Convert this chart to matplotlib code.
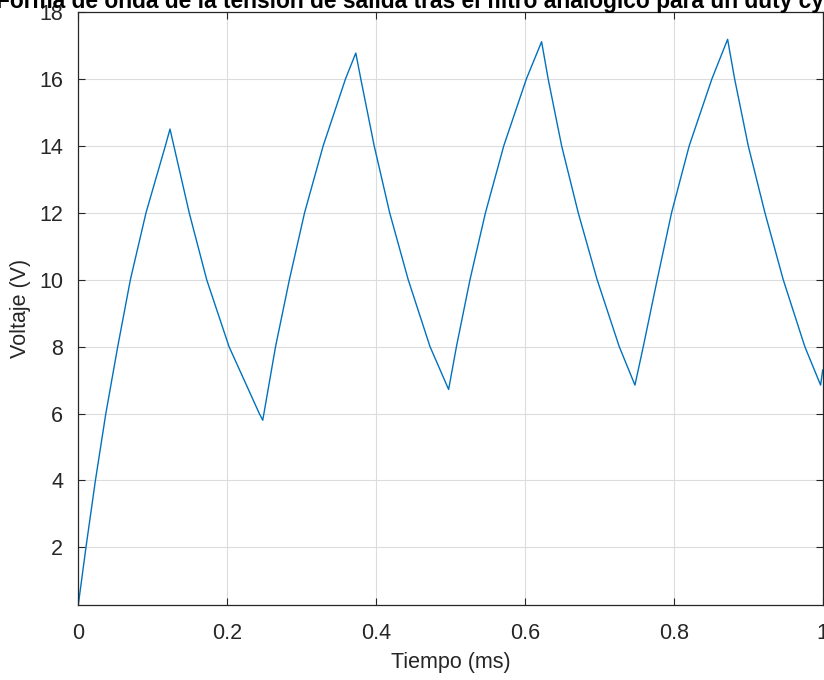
#! /usr/bin/env python3

import matplotlib.pyplot as plt

"""
Tensión a la salida del filtro RC (valores leídos en el osciloscopio).
"""

# tiempo en milisegundos
tiempo = [
    0.0, 0.0103, 0.023, 0.037, 0.053, 0.070, 0.091, 0.117, 0.1232,
    0.149, 0.1725, 0.2025, 0.2432, 0.2478,
    0.2650, 0.2836, 0.3040, 0.3290, 0.3590, 0.3728,
    0.3795, 0.3975, 0.4183, 0.4432, 0.4725, 0.4975,
    0.5080, 0.5262, 0.5470, 0.5716, 0.6020, 0.6224,
    0.6312, 0.6493, 0.6716, 0.6970, 0.7267, 0.7478,
    0.7590, 0.7777, 0.7970, 0.8207, 0.8512, 0.8723,
    0.8817, 0.9000, 0.9224, 0.9470, 0.9760, 0.9972, 1.0,
]

# tensión en voltios
voltaje = [
    0.28, 2.0, 4.0, 6.0, 8.0, 10.0, 12.0, 14.0, 14.5,
    12.0, 10.0, 8.0, 6.0, 5.8,
    8.0, 10.0, 12.0, 14.0, 16.0, 16.77,
    16.0, 14.0, 12.0, 10.0, 8.0, 6.72,
    8.0, 10.0, 12.0, 14.0, 16.0, 17.11,
    16.0, 14.0, 12.0, 10.0, 8.0, 6.85,
    8.0, 10.0, 12.0, 14.0, 16.0, 17.18,
    16.0, 14.0, 12.0, 10.0, 8.0, 6.85, 7.3,
]

titulo = ("Forma de onda de la tensión de salida tras el filtro analógico "
          "para un duty cycle del 50%")

xticks = [0, 0.2, 0.4, 0.6, 0.8, 1]
xticklabels = ["0", "0.2", "0.4", "0.6", "0.8", "1"]
yticks = [2, 4, 6, 8, 10, 12, 14, 16, 18]

"""
Gráfica.
"""

plt.rcParams["font.family"] = ["Liberation Sans", "DejaVu Sans"]

gris = "#262626"

fig = plt.figure(figsize=(8.24, 6.8), dpi=100)
ax = fig.add_axes([0.095, 0.1103, 0.9034, 0.8722])

ax.plot(tiempo, voltaje, color="#0072BD", linewidth=1.0)

ax.set_xlim(0, 1)
ax.set_ylim(0.28, 18)
ax.set_xticks(xticks)
ax.set_xticklabels(xticklabels)
ax.set_yticks(yticks)

ax.grid(True, color="#dcdcdc", linewidth=0.8)
ax.set_axisbelow(True)

for s in ax.spines.values():
    s.set_color(gris)
    s.set_linewidth(0.9)

ax.tick_params(direction="in", length=5, width=0.8, colors=gris,
               labelsize=15.5, top=True, right=True)
ax.tick_params(axis="x", pad=13)
ax.tick_params(axis="y", pad=11)

ax.set_xlabel("Tiempo (ms)", fontsize=15.5, color=gris, labelpad=6)
ax.set_ylabel("Voltaje (V)", fontsize=15.5, color=gris, labelpad=6)

# título demasiado largo: queda recortado por los bordes de la figura
fig.text(-0.005, 0.988, titulo, ha="left", va="baseline",
         fontsize=16.4, fontweight="bold", color="black")

fig.savefig("out.png", dpi=100)
